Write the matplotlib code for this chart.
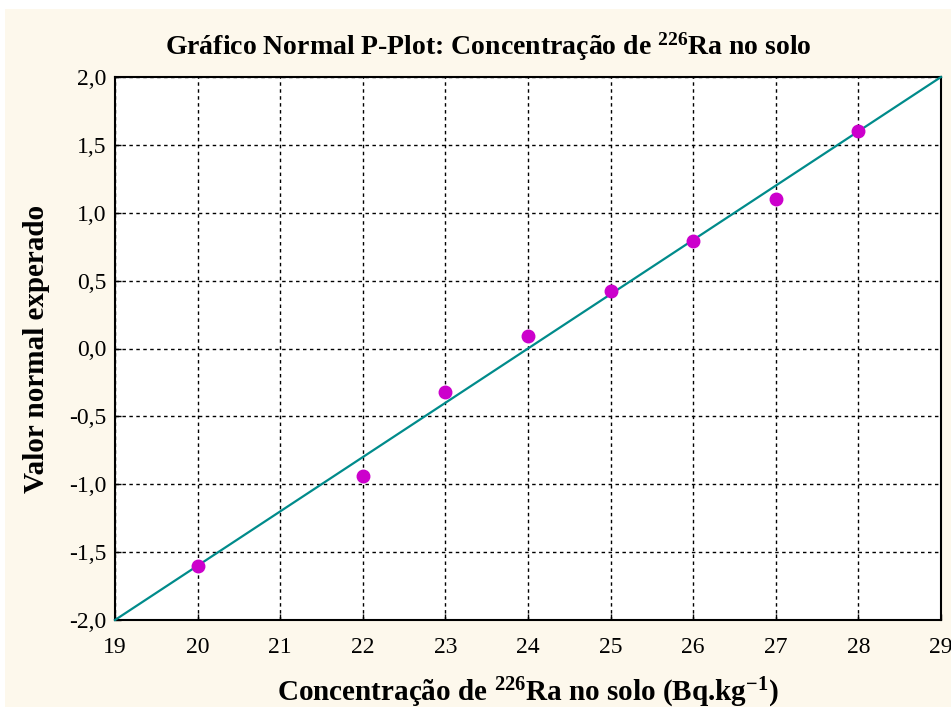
import numpy as np
import matplotlib.pyplot as plt
from matplotlib.patches import Rectangle
from matplotlib.ticker import FuncFormatter

# dados
conc = [20, 22, 23, 24, 25, 26, 27, 28]
valor_normal = [-1.60, -0.94, -0.32, 0.09, 0.42, 0.79, 1.10, 1.60]
linha_x = [19, 29]
linha_y = [-2.0, 2.0]
xticks = np.arange(19, 30, 1)
yticks = np.arange(-2.0, 2.01, 0.5)

plt.rcParams['font.family'] = ['Liberation Serif', 'DejaVu Serif']
plt.rcParams['mathtext.fontset'] = 'custom'
plt.rcParams['mathtext.bf'] = 'Liberation Serif:bold'
plt.rcParams['mathtext.rm'] = 'Liberation Serif'

fig = plt.figure(figsize=(9.51, 7.11), dpi=100)
fig.patch.set_facecolor('white')
fig.patches.append(Rectangle((5 / 951, 4 / 711), 946 / 951, 698 / 711,
                             transform=fig.transFigure, facecolor='#fdf8ec',
                             edgecolor='none', zorder=-5))

ax = fig.add_axes([115 / 951, 91 / 711, 826 / 951, 543 / 711])
ax.set_facecolor('white')

ax.plot(linha_x, linha_y, color='#008b8b', lw=1.6, zorder=3, clip_on=False)
ax.plot(conc, valor_normal, 'o', color='#cc00cc', ms=9, zorder=4)

ax.set_xlim(19, 29)
ax.set_ylim(-2.0, 2.0)
ax.set_xticks(xticks)
ax.set_yticks(yticks)
ax.yaxis.set_major_formatter(FuncFormatter(lambda v, p: f'{v:.1f}'.replace('.', ',')))
ax.grid(True, color='black', linestyle=(0, (2.5, 2.5)), lw=1.0)
ax.tick_params(direction='in', length=4, width=1, labelsize=17)
ax.tick_params(axis='x', pad=12)
ax.tick_params(axis='y', pad=6)
for s in ax.spines.values():
    s.set_linewidth(1.5)

ax.set_title('Gráfico Normal P-Plot: Concentração de $\\mathbf{^{226}}$Ra no solo',
             fontsize=20, fontweight='bold', pad=16, x=0.4516)
ax.set_xlabel('Concentração de $\\mathbf{^{226}}$Ra no solo (Bq.kg$\\mathbf{^{-1}}$)',
              fontsize=21, fontweight='bold', labelpad=13)
ax.set_ylabel('Valor normal experado', fontsize=21, fontweight='bold', labelpad=14)

fig.savefig('out.png', dpi=100, facecolor=fig.get_facecolor())
